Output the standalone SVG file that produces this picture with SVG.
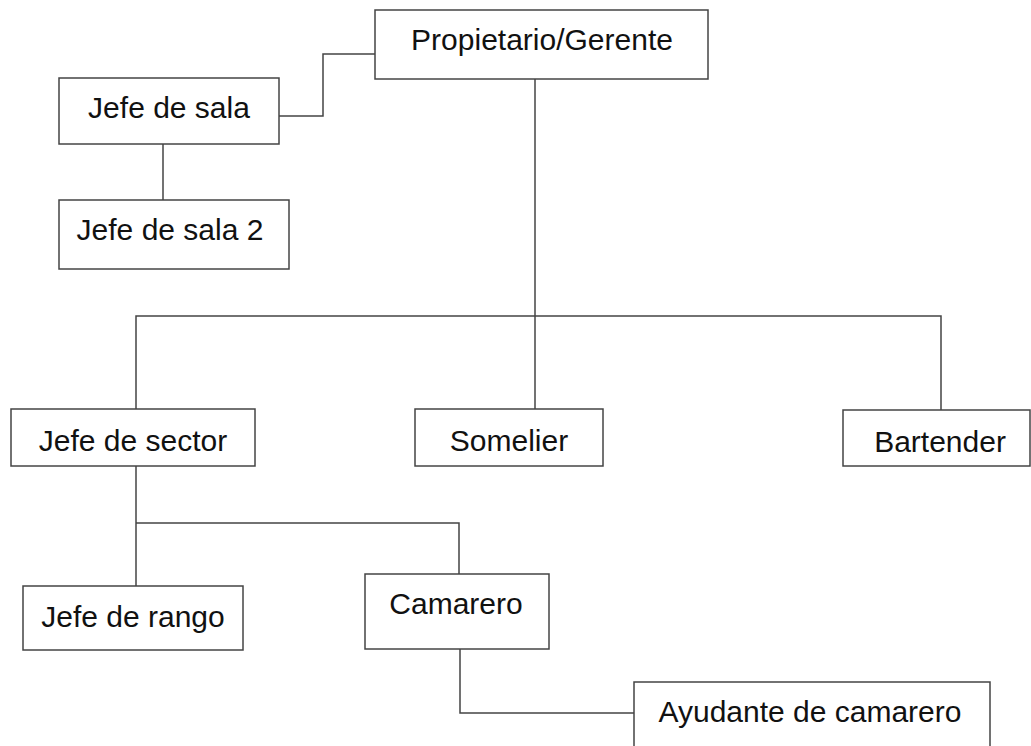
<svg xmlns="http://www.w3.org/2000/svg" width="1031" height="746" viewBox="0 0 1031 746">
<style>
.box{fill:#ffffff;stroke:#444444;stroke-width:1.5}
.lbl{font-family:"Liberation Sans",Arial,sans-serif;font-size:30px;fill:#111111;text-anchor:middle}
.conn{fill:none;stroke:#444444;stroke-width:1.5}
</style>
<rect width="1031" height="746" fill="#ffffff"/>
<g id="connectors">
<polyline class="conn" points="279,116 323,116 323,54 375,54"/>
<line class="conn" x1="163" y1="144" x2="163" y2="200"/>
<line class="conn" x1="535" y1="79" x2="535" y2="409"/>
<polyline class="conn" points="136,409 136,316 941,316 941,410"/>
<polyline class="conn" points="136,466 136,586"/>
<polyline class="conn" points="136,523 459,523 459,574"/>
<polyline class="conn" points="460,649 460,713 634,713"/>
</g>
<g id="node-propietario"><rect class="box" x="375" y="10" width="333" height="69"/><text class="lbl" x="542" y="50">Propietario/Gerente</text></g>
<g id="node-jefe-sala"><rect class="box" x="59" y="78" width="220" height="66"/><text class="lbl" x="169" y="118">Jefe de sala</text></g>
<g id="node-jefe-sala-2"><rect class="box" x="59" y="200" width="230" height="69"/><text class="lbl" x="170" y="240">Jefe de sala 2</text></g>
<g id="node-jefe-sector"><rect class="box" x="11" y="409" width="244" height="57"/><text class="lbl" x="133" y="451">Jefe de sector</text></g>
<g id="node-somelier"><rect class="box" x="415" y="409" width="188" height="57"/><text class="lbl" x="509" y="451">Somelier</text></g>
<g id="node-bartender"><rect class="box" x="843" y="410" width="187" height="56"/><text class="lbl" x="940" y="452">Bartender</text></g>
<g id="node-jefe-rango"><rect class="box" x="23" y="586" width="220" height="64"/><text class="lbl" x="133" y="627">Jefe de rango</text></g>
<g id="node-camarero"><rect class="box" x="365" y="574" width="184" height="75"/><text class="lbl" x="456" y="614">Camarero</text></g>
<g id="node-ayudante"><rect class="box" x="634" y="682" width="356" height="80"/><text class="lbl" x="810" y="722">Ayudante de camarero</text></g>
</svg>
